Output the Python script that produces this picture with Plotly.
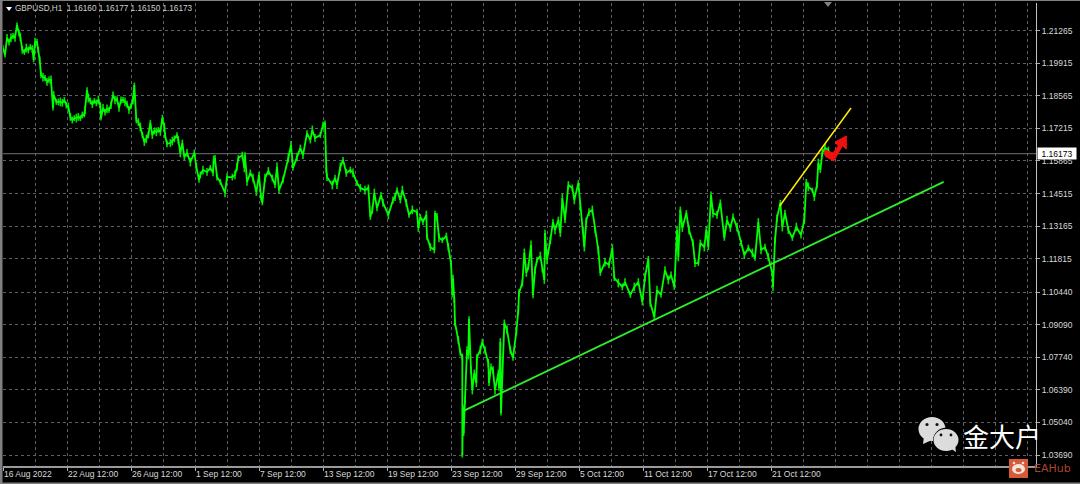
import plotly.graph_objects as go

bars = [0,3,6,9,12,15,18,21,24,26,29,32,35,38,41,44,46,48,51,53,55,57,60,63,66,69,72,75,76,80,83,86,89,92,95,98,101,104,107,110,113,116,119,122,123,126,128,131,134,137,140,143,146,147,150,153,156,159,162,165,168,171,174,177,180,183,186,189,192,195,197,200,203,206,209,212,215,218,221,224,227,230,233,236,239,242,243,246,251,254,257,261,263,266,269,272,276,281,287,290,294,296,300,306,311,315,316,318,321,326,333,336,344,348,351,353,359,362,363,366,371,375,380,384,387,389,393,398,404,408,411,414,420,428,432,435,441,446,450,456,461,464,468,476,480,483,485,486,494,498,501,506,510,515,521,525,531,536,543,548,551,554,557,561,567,570,578,585,588,591,596,599,605,609,614,621,623,626,630,635,636,641,647,648,651,654,659,665,668,672,674,675,677,678,683,686,689,689,690,691,693,696,698,699,702,704,707,710,711,716,719,723,728,729,732,735,738,743,744,746,747,749,752,756,761,765,770,773,774,779,782,785,788,792,795,798,801,806,809,812,813,816,821,825,828,833,836,839,843,848,854,857,863,866,870,872,875,879,884,888,893,896,903,909,914,917,923,929,933,941,947,953,959,963,968,971,977,981,987,993,998,1002,1007,1011,1013,1016,1019,1025,1029,1035,1038,1043,1046,1052,1055,1058,1062,1065,1071,1076,1082,1086,1091,1095,1101,1107,1112,1118,1124,1128,1133,1137,1143,1148,1154,1155,1158,1161,1166,1169,1173,1178,1184,1190,1197,1202,1205,1208,1214,1217,1221,1223,1226,1229,1233,1238,1239]
price = [1.2054,1.2025,1.2096,1.2079,1.2096,1.2104,1.2096,1.2150,1.2116,1.2100,1.2046,1.2038,1.2054,1.2046,1.2058,1.2050,1.2005,1.2079,1.2079,1.2046,1.2005,1.1943,1.1934,1.1930,1.1914,1.1922,1.1922,1.1806,1.1860,1.1831,1.1831,1.1831,1.1827,1.1839,1.1818,1.1810,1.1769,1.1756,1.1764,1.1764,1.1769,1.1764,1.1777,1.1777,1.1798,1.1880,1.1847,1.1835,1.1822,1.1835,1.1827,1.1839,1.1818,1.1764,1.1806,1.1789,1.1802,1.1798,1.1818,1.1860,1.1839,1.1843,1.1806,1.1839,1.1839,1.1831,1.1822,1.1798,1.1814,1.1839,1.1901,1.1756,1.1748,1.1727,1.1694,1.1665,1.1678,1.1694,1.1744,1.1694,1.1711,1.1707,1.1715,1.1707,1.1764,1.1727,1.1694,1.1657,1.1661,1.1669,1.1678,1.1694,1.1673,1.1620,1.1661,1.1603,1.1620,1.1582,1.1620,1.1562,1.1508,1.1529,1.1549,1.1541,1.1558,1.1537,1.1591,1.1595,1.1520,1.1500,1.1454,1.1520,1.1520,1.1529,1.1562,1.1599,1.1611,1.1558,1.1611,1.1500,1.1537,1.1516,1.1458,1.1529,1.1437,1.1413,1.1516,1.1545,1.1516,1.1487,1.1562,1.1466,1.1508,1.1599,1.1653,1.1558,1.1603,1.1640,1.1611,1.1702,1.1673,1.1715,1.1682,1.1694,1.1735,1.1744,1.1549,1.1520,1.1487,1.1516,1.1487,1.1562,1.1591,1.1537,1.1549,1.1537,1.1495,1.1475,1.1466,1.1475,1.1355,1.1384,1.1454,1.1392,1.1446,1.1413,1.1363,1.1425,1.1437,1.1466,1.1425,1.1466,1.1413,1.1363,1.1384,1.1375,1.1309,1.1355,1.1334,1.1363,1.1272,1.1230,1.1218,1.1371,1.1355,1.1268,1.1259,1.1276,1.1230,1.1164,1.1032,1.1102,1.1011,1.0916,1.0845,1.0792,1.0775,1.0369,1.0568,1.0460,1.0597,1.0804,1.0783,1.0932,1.0721,1.0638,1.0709,1.0667,1.0775,1.0804,1.0837,1.0804,1.0750,1.0667,1.0734,1.0721,1.0638,1.0709,1.0647,1.0837,1.0543,1.0709,1.0916,1.0887,1.0804,1.0771,1.0879,1.0970,1.1040,1.1081,1.1206,1.1123,1.1148,1.1239,1.1032,1.1135,1.1177,1.1193,1.1135,1.1094,1.1288,1.1177,1.1259,1.1334,1.1301,1.1342,1.1288,1.1433,1.1342,1.1487,1.1475,1.1425,1.1495,1.1396,1.1301,1.1230,1.1342,1.1375,1.1384,1.1301,1.1218,1.1123,1.1168,1.1156,1.1226,1.1102,1.1081,1.1065,1.1085,1.1032,1.1065,1.1085,1.1003,1.1106,1.1181,1.0999,1.0941,1.1052,1.1032,1.1135,1.1094,1.1115,1.1065,1.1301,1.1189,1.1384,1.1309,1.1371,1.1301,1.1247,1.1164,1.1164,1.1247,1.1230,1.1301,1.1230,1.1446,1.1371,1.1363,1.1413,1.1268,1.1342,1.1309,1.1355,1.1313,1.1247,1.1197,1.1226,1.1206,1.1185,1.1334,1.1218,1.1230,1.1189,1.1123,1.1065,1.1259,1.1350,1.1413,1.1313,1.1371,1.1301,1.1268,1.1313,1.1280,1.1342,1.1500,1.1479,1.1466,1.1437,1.1487,1.1578,1.1549,1.1620,1.1640,1.1632,1.16173]
# half-range of the hourly bars around each traced point, in units of two pips, read from the stroke thickness
half_range_units = [6,5,8,7,9,6,8,5,7,9,8,6,9,7,6,8,5,9,7,6,8,7,9,6,8,7,9,5,8,6,7,9,8,6,7,9,8,7,6,9,8,6,7,5,8,6,9,7,8,6,7,9,6,5,8,7,9,6,8,7,9,6,8,7,6,9,7,8,6,9,5,7,8,9,6,8,9,7,6,8,7,9,6,8,7,9,6,7,8,9,7,6,8,9,7,6,8,9,7,8,6,7,9,8,6,7,9,8,7,6,9,8,7,9,8,6,7,9,6,8,7,9,8,6,7,5,9,8,7,6,9,8,7,9,8,6,9,7,8,6,7,9,8,6,7,5,6,8,9,7,8,9,6,8,7,9,6,8,9,7,6,8,9,7,6,8,9,7,8,6,7,9,8,6,9,7,8,6,7,9,6,8,7,5,8,9,6,7,8,6,5,7,6,7,8,6,7,5,5,6,7,8,9,6,8,9,7,8,6,9,7,8,9,6,7,8,9,7,6,8,5,5,7,9,8,6,7,9,8,7,9,8,6,9,7,8,6,9,5,8,7,9,8,6,9,7,8,9,6,8,7,9,6,8,7,9,6,8,9,7,8,6,9,7,8,6,9,7,8,6,9,8,7,9,6,8,7,9,6,8,9,7,6,8,9,7,8,6,9,7,8,6,7,9,8,6,7,9,8,7,6,9,8,7,9,6,8,7,9,6,8,9,7,8,6,9,7,8,6,9,7,8,6,9,7,8,6,9,5,8,7,9,6,8,9,7,6,8,7,9,6,8,7,9,6,8,7,6,8,7,9,6,8,7,5,7,8,6,7,6,6,5,5,5,5,5,5,5,5,5,5,5,5,5,5,5]
n = min(len(bars), len(price))
bars, price = bars[:n], price[:n]
half_range = [u * 2 / 10000 for u in half_range_units[:n]]

last_price = 1.16173
green_bars = [690, 1411]
green_prices = [1.0551, 1.1500]
yellow_bars = [1165, 1272]
yellow_prices = [1.1400, 1.1806]
arrow_bars = [1233,1245,1253,1248,1265,1265,1259,1246,1233,1233]
arrow_prices = [1.1632,1.1620,1.1649,1.1665,1.1690,1.1636,1.1649,1.1586,1.1607,1.1632]

y_ticks = [1.21265,1.19915,1.18565,1.17215,1.15865,1.14515,1.13165,1.11815,1.10440,1.09090,1.07740,1.06390,1.05040,1.03690]
x_tick_bars = [0,96,192,288,384,480,576,672,768,864,960,1056,1152]
x_tick_text = ["16 Aug 2022","22 Aug 12:00","26 Aug 12:00","1 Sep 12:00","7 Sep 12:00","13 Sep 12:00","19 Sep 12:00","23 Sep 12:00","29 Sep 12:00","5 Oct 12:00","11 Oct 12:00","17 Oct 12:00","21 Oct 12:00"]
header = "GBPUSD,H1  1.16160 1.16177 1.16150 1.16173"

L, R, T, B = 3, 1036, 3, 466
def PX(x): return (x - L) / (R - L)
def PY(y): return (B - y) / (B - T)

FONT = "Liberation Sans"
GRID = "#5f6064"
fig = go.Figure()
fig.add_trace(go.Scatter(x=bars, y=price, mode="lines", line=dict(color="#00ff00", width=1.8), hoverinfo="skip", showlegend=False,
                         error_y=dict(type="data", array=half_range, symmetric=True, color="#00e000", thickness=1.6, width=0)))
fig.add_trace(go.Scatter(x=green_bars, y=green_prices, mode="lines", line=dict(color="#2cf02c", width=1.8), showlegend=False))
fig.add_trace(go.Scatter(x=yellow_bars, y=yellow_prices, mode="lines", line=dict(color="#ffee00", width=1.5), showlegend=False))
fig.add_trace(go.Scatter(x=arrow_bars, y=arrow_prices, mode="lines", fill="toself", fillcolor="#f01010", line=dict(color="#f01010", width=1), showlegend=False))

shapes = [
    dict(type="line", xref="paper", yref="y", x0=0, x1=1, y0=last_price, y1=last_price, line=dict(color="#5c5c60", width=1.2), layer="below"),
    dict(type="rect", xref="paper", yref="paper", x0=PX(0), x1=PX(2.5), y0=PY(484), y1=PY(0), fillcolor="#808080", line_width=0),
    dict(type="rect", xref="paper", yref="paper", x0=PX(0), x1=PX(1080), y0=PY(484), y1=PY(482.5), fillcolor="#808080", line_width=0),
    dict(type="rect", xref="paper", yref="paper", x0=PX(0), x1=PX(1080), y0=PY(1), y1=PY(0), fillcolor="#808080", line_width=0),
    dict(type="path", xref="paper", yref="paper", path=f"M {PX(824)} {PY(2)} L {PX(832)} {PY(2)} L {PX(828)} {PY(7)} Z", fillcolor="#808080", line_width=0),
    dict(type="path", xref="paper", yref="paper", path=f"M {PX(6)} {PY(7)} L {PX(12)} {PY(7)} L {PX(9)} {PY(11)} Z", fillcolor="#ffffff", line_width=0),
]
def ell(cx, cy, rx, ry, col):
    return dict(type="circle", xref="paper", yref="paper", x0=PX(cx-rx), x1=PX(cx+rx), y0=PY(cy+ry), y1=PY(cy-ry), fillcolor=col, line_width=0)
def poly(pts, col):
    p = " L ".join(f"{PX(a)} {PY(b)}" for a, b in pts)
    return dict(type="path", xref="paper", yref="paper", path=f"M {p} Z", fillcolor=col, line_width=0)
WC = "#dcdcdc"
shapes += [
    ell(932, 429, 13.5, 12, WC), poly([(924,436),(923,444),(932,440)], WC),
    ell(947, 440, 14, 12.5, "#000000"),
    ell(946, 440, 12.5, 11, WC), poly([(950,448),(956,452),(955,445)], WC),
    ell(927, 424.5, 1.6, 1.6, "#111111"), ell(937, 424.5, 1.6, 1.6, "#111111"),
    ell(941, 435, 1.4, 1.4, "#111111"), ell(951, 435, 1.4, 1.4, "#111111"),
    dict(type="rect", xref="paper", yref="paper", x0=PX(1009), x1=PX(1028), y0=PY(478), y1=PY(459), fillcolor="#d65a38", line_width=0),
    ell(1018.5, 469, 6.5, 5, "#f4e4dc"), ell(1014, 463, 1.3, 1.3, "#f4e4dc"), ell(1023, 463, 1.3, 1.3, "#f4e4dc"),
    ell(1018.5, 470, 3, 2, "#d65a38"),
]

ann = [dict(x=b, xref="x", y=PY(474), yref="paper", text=t, showarrow=False, xanchor="left", xshift=-1, yanchor="middle",
            font=dict(family=FONT, size=8.5, color="#d8d8d8")) for b, t in zip(x_tick_bars, x_tick_text)]
ann += [
    dict(x=PX(13), xref="paper", y=PY(9), yref="paper", text=header.replace("  ", "&nbsp;&nbsp;"), showarrow=False, xanchor="left", yanchor="middle",
         font=dict(family=FONT, size=8.2, color="#d0d0d0")),
    dict(x=PX(1037), xref="paper", y=last_price, yref="y", text="1.16173", showarrow=False, xanchor="left", yanchor="middle",
         bgcolor="#ffffff", borderpad=0, width=38, height=11, align="center", font=dict(family=FONT, size=8.5, color="#000000")),
    dict(x=PX(1002), xref="paper", y=PY(435), yref="paper", text="金大户", showarrow=False, xanchor="center", yanchor="middle",
         font=dict(family="Noto Sans CJK SC", size=26, color="#ffffff")),
    dict(x=PX(1032), xref="paper", y=PY(469), yref="paper", text="EAHub", showarrow=False, xanchor="left", yanchor="middle",
         font=dict(family="DejaVu Sans", size=11, color="#a8452c")),
]

fig.update_layout(
    width=1080, height=484, autosize=False,
    margin=dict(l=L, r=1080-R, t=T, b=484-B),
    paper_bgcolor="#000000", plot_bgcolor="#000000", showlegend=False,
    shapes=shapes, annotations=ann,
    xaxis=dict(range=[0, (R-L)*1.5], tickmode="array", tickvals=x_tick_bars, ticktext=[""]*len(x_tick_bars),
               ticks="outside", ticklen=3, tickcolor="#b0b0b0", showgrid=True, gridcolor=GRID, griddash="3px,3px", gridwidth=1,
               showline=True, linecolor="#9a9a9a", linewidth=1.5, zeroline=False,
               minor=dict(dtick=48, tick0=0, showgrid=True, gridcolor=GRID, griddash="3px,3px", gridwidth=1, ticks="")),
    yaxis=dict(range=[1.2253-466*0.000414, 1.2253-3*0.000414], side="right", tickmode="array", tickvals=y_ticks,
               ticktext=[f"{v:.5f}" for v in y_ticks], ticks="outside", ticklen=3, tickcolor="#b0b0b0",
               tickfont=dict(family=FONT, size=8.5, color="#d8d8d8"),
               showgrid=True, gridcolor=GRID, griddash="3px,3px", gridwidth=1,
               showline=True, linecolor="#c0c0c0", linewidth=1, zeroline=False),
)
fig.write_html("out.html", config={"displayModeBar": False},
               post_script="document.body.style.margin='0';document.documentElement.style.overflow='hidden';document.body.style.background='#000';")
